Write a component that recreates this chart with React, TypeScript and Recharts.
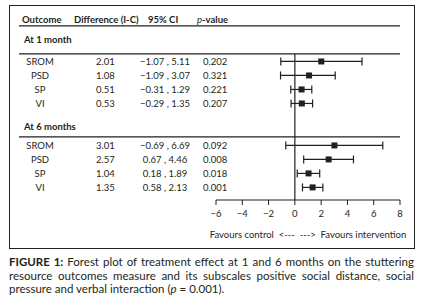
import React from "react";
import { ScatterChart, Scatter, XAxis, YAxis, ErrorBar, ReferenceLine } from "recharts";

// outcomes and results
const outcomes = ["SROM", "PSD", "SP", "VI"];
const diff1 = [2.01, 1.08, 0.51, 0.53];
const low1 = [-1.07, -1.09, -0.31, -0.29];
const high1 = [5.11, 3.07, 1.29, 1.35];
const p1 = ["0.202", "0.321", "0.221", "0.207"];
const diff6 = [3.01, 2.57, 1.04, 1.35];
const low6 = [-0.69, 0.67, 0.18, 0.58];
const high6 = [6.69, 4.46, 1.89, 2.13];
const p6 = ["0.092", "0.008", "0.018", "0.001"];
const xTicks = [-6, -4, -2, 0, 2, 4, 6, 8];

const INK = "#231f20";
const FONT = "Lato, 'Open Sans', sans-serif";

// row slots on the y axis (layout only)
const HEADER_POS = -2.96;
const TITLE1_POS = -1.54;
const TITLE6_POS = 4.68;
const RULES = [-2.54, -0.54, 5.39];
const ROWS1 = [0, 1, 2, 3];
const ROWS6 = [6, 7, 8, 9];

const fmt = (n: number) => n.toFixed(2).replace("-", "\u2212");

function buildRows(pos: number[], diff: number[], lo: number[], hi: number[], p: string[]) {
  return outcomes.map((name, i) => ({
    pos: pos[i],
    name,
    diff: diff[i],
    err: [diff[i] - lo[i], hi[i] - diff[i]],
    ci: `${fmt(lo[i])} , ${fmt(hi[i])}`,
    p: p[i],
  }));
}

const rows = [
  ...buildRows(ROWS1, diff1, low1, high1, p1),
  ...buildRows(ROWS6, diff6, low6, high6, p6),
];

const yTicks = [HEADER_POS, TITLE1_POS, TITLE6_POS, ...RULES, ...ROWS1, ...ROWS6];

function TableTick(props: any) {
  const v = props.payload?.value;
  const y = props.y;
  const txt = { fontFamily: FONT, fontSize: 9.5, fill: INK, dy: "0.35em" } as any;
  if (v === HEADER_POS) {
    return (
      <g>
        <text x={22} y={y} {...txt} fontWeight={700}>Outcome</text>
        <text x={74} y={y} {...txt} fontWeight={700}>Difference (I-C)</text>
        <text x={148} y={y} {...txt} fontWeight={700}>95% CI</text>
        <text x={197} y={y} {...txt} fontWeight={700}>
          <tspan fontStyle="italic" fontWeight={400}>p</tspan>-value
        </text>
      </g>
    );
  }
  if (v === TITLE1_POS || v === TITLE6_POS) {
    return (
      <text x={24} y={y} {...txt} fontWeight={700}>
        {v === TITLE1_POS ? "At 1 month" : "At 6 months"}
      </text>
    );
  }
  if (RULES.includes(v)) {
    return <line x1={19} x2={400} y1={y} y2={y} stroke={INK} strokeWidth={1.2} />;
  }
  const r = rows.find((d) => d.pos === v);
  if (!r) return null;
  return (
    <g>
      <text x={40} y={y} {...txt} textAnchor="middle">{r.name}</text>
      <text x={96} y={y} {...txt}>{r.diff.toFixed(2)}</text>
      <text x={165} y={y} {...txt} textAnchor="middle">{r.ci}</text>
      <text x={203} y={y} {...txt}>{r.p}</text>
    </g>
  );
}

function Square(props: any) {
  const { cx, cy } = props;
  return <rect x={cx - 3} y={cy - 3} width={6} height={6} fill={INK} />;
}

export default function App() {
  return (
    <div style={{ position: "absolute", left: 0, top: 0, width: 422, height: 305, background: "#fff" }}>
      <div
        style={{
          position: "absolute",
          left: 9,
          top: 5,
          width: 404,
          height: 242,
          border: `1px solid ${INK}`,
          pointerEvents: "none",
        }}
      />
      <div style={{ position: "absolute", left: 0, top: 0 }}>
        <ScatterChart width={422} height={250} margin={{ top: 5.5, right: 22, bottom: 0, left: 0 }}>
          <XAxis
            type="number"
            dataKey="diff"
            domain={[-6, 8]}
            ticks={xTicks}
            allowDataOverflow
            stroke={INK}
            tickSize={5}
            tickMargin={5}
            height={50}
            tick={{ fontFamily: FONT, fontSize: 9.5, fill: INK }}
            tickFormatter={(v: number) => String(v).replace("-", "\u2212")}
            label={{
              value: "Favours control\u00a0\u00a0<---\u00a0\u00a0--->\u00a0\u00a0Favours intervention",
              position: "insideBottom",
              offset: 12,
              style: { fontFamily: FONT, fontSize: 9.5, fill: INK },
            }}
          />
          <YAxis
            type="number"
            dataKey="pos"
            domain={[-4, 9.9]}
            reversed
            allowDataOverflow
            ticks={yTicks}
            interval={0}
            width={216}
            axisLine={false}
            tickLine={false}
            tick={<TableTick />}
          />
          <ReferenceLine
            segment={[
              { x: 0, y: -0.54 },
              { x: 0, y: 9.9 },
            ]}
            stroke={INK}
            strokeWidth={1.2}
          />
          <Scatter data={rows} shape={<Square />} isAnimationActive={false}>
            <ErrorBar dataKey="err" direction="x" width={4} stroke={INK} strokeWidth={1.2} />
          </Scatter>
        </ScatterChart>
      </div>
      <div
        style={{
          position: "absolute",
          left: 9,
          top: 255,
          width: 405,
          fontFamily: FONT,
          fontSize: 11.5,
          lineHeight: "13.6px",
          color: INK,
        }}
      >
        <div style={{ textAlign: "justify", textAlignLast: "justify" }}>
          <b>FIGURE 1:</b> Forest plot of treatment effect at 1 and 6 months on the stuttering
        </div>
        <div style={{ textAlign: "justify", textAlignLast: "justify" }}>
          resource outcomes measure and its subscales positive social distance, social
        </div>
        <div>
          pressure and verbal interaction (<i>p</i> = 0.001).
        </div>
      </div>
    </div>
  );
}
